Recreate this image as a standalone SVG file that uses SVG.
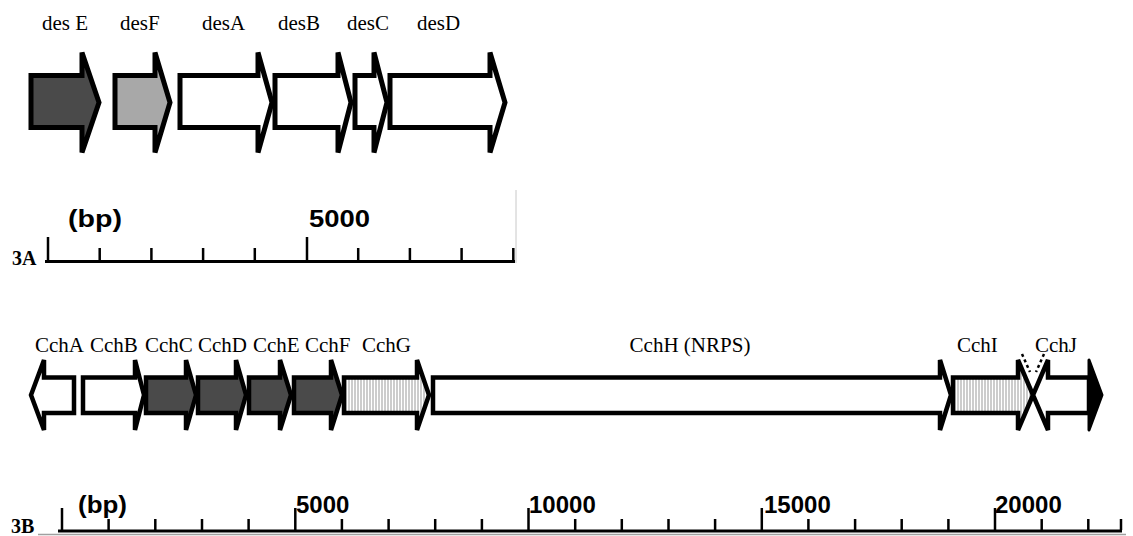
<svg xmlns="http://www.w3.org/2000/svg" width="1133" height="536" viewBox="0 0 1133 536">
<style>
.lbl{font-family:"Liberation Serif","Times New Roman",serif;font-size:21px;fill:#000}
.pan{font-family:"Liberation Serif","Times New Roman",serif;font-size:20px;font-weight:bold;fill:#000}
.num{font-family:"Liberation Sans",Arial,sans-serif;font-size:24px;font-weight:bold;fill:#000}
.ga{stroke:#000;stroke-width:5;stroke-linejoin:miter;stroke-miterlimit:4}
.gb{stroke:#000;stroke-width:4.5;stroke-linejoin:miter;stroke-miterlimit:4}
.dark{fill:#4a4a4a}
.light{fill:#a8a8a8}
.white{fill:#fff}
.hatch{fill:url(#hatch)}
.axis{stroke:#000;stroke-width:3;fill:none}
.tick{stroke:#000;stroke-width:2.5}
</style>
<defs>
<pattern id="hatch" width="3" height="10" patternUnits="userSpaceOnUse">
<rect width="3" height="10" fill="#fff"/>
<line x1="1" y1="0" x2="1" y2="10" stroke="#9a9a9a" stroke-width="1"/>
</pattern>
</defs>
<rect width="1133" height="536" fill="#fff"/>

<!-- Panel 3A genes -->
<g id="desE"><polygon class="ga dark" points="31,75.5 82,75.5 82,52.5 99,102.5 82,152.5 82,127.5 31,127.5"/><text class="lbl" x="42" y="30">des E</text></g>
<g id="desF"><polygon class="ga light" points="115,75.5 155,75.5 155,52.5 170,102.5 155,152.5 155,127.5 115,127.5"/><text class="lbl" x="120" y="30">desF</text></g>
<g id="desA"><polygon class="ga white" points="180,75.5 258,75.5 258,52.5 272,102.5 258,152.5 258,127.5 180,127.5"/><text class="lbl" x="202" y="30">desA</text></g>
<g id="desB"><polygon class="ga white" points="275,75.5 338,75.5 338,52.5 351,102.5 338,152.5 338,127.5 275,127.5"/><text class="lbl" x="278" y="30">desB</text></g>
<g id="desC"><polygon class="ga white" points="355,75.5 374,75.5 374,52.5 387,102.5 374,152.5 374,127.5 355,127.5"/><text class="lbl" x="347" y="30">desC</text></g>
<g id="desD"><polygon class="ga white" points="390,75.5 490,75.5 490,52.5 505,102.5 490,152.5 490,127.5 390,127.5"/><text class="lbl" x="417" y="30">desD</text></g>

<!-- Panel 3A scale -->
<g id="scaleA">
<line x1="516" y1="190" x2="516" y2="263" stroke="#c8c8c8" stroke-width="1"/>
<line class="axis" x1="45" y1="261.5" x2="515" y2="261.5"/>
<line class="tick" x1="48" y1="237" x2="48" y2="261"/>
<line class="tick" x1="99.7" y1="248" x2="99.7" y2="261"/>
<line class="tick" x1="151.4" y1="248" x2="151.4" y2="261"/>
<line class="tick" x1="203.1" y1="248" x2="203.1" y2="261"/>
<line class="tick" x1="254.8" y1="248" x2="254.8" y2="261"/>
<line class="tick" x1="307" y1="237" x2="307" y2="261"/>
<line class="tick" x1="358.2" y1="248" x2="358.2" y2="261"/>
<line class="tick" x1="409.9" y1="248" x2="409.9" y2="261"/>
<line class="tick" x1="461.6" y1="248" x2="461.6" y2="261"/>
<line class="tick" x1="513.3" y1="248" x2="513.3" y2="261"/>
<text class="num" x="68" y="227" textLength="54" lengthAdjust="spacingAndGlyphs">(bp)</text>
<text class="num" x="309" y="227" textLength="61" lengthAdjust="spacingAndGlyphs">5000</text>
<text class="pan" x="12" y="265">3A</text>
</g>

<!-- Panel 3B genes -->
<g id="CchA"><polygon class="gb white" points="31,395 44,360 44,377.5 74,377.5 74,413 44,413 44,430"/><text class="lbl" x="35" y="352">CchA</text></g>
<g id="CchB"><polygon class="gb white" points="83,377.5 135,377.5 135,360 144,395 135,430 135,413 83,413"/><text class="lbl" x="90" y="352">CchB</text></g>
<g id="CchC"><polygon class="gb dark" points="146,377.5 186,377.5 186,360 196,395 186,430 186,413 146,413"/><text class="lbl" x="145" y="352">CchC</text></g>
<g id="CchD"><polygon class="gb dark" points="198,377.5 236,377.5 236,360 246,395 236,430 236,413 198,413"/><text class="lbl" x="198" y="352">CchD</text></g>
<g id="CchE"><polygon class="gb dark" points="249,377.5 280,377.5 280,360 291,395 280,430 280,413 249,413"/><text class="lbl" x="253" y="352">CchE</text></g>
<g id="CchF"><polygon class="gb dark" points="294,377.5 331,377.5 331,360 342,395 331,430 331,413 294,413"/><text class="lbl" x="305" y="352">CchF</text></g>
<g id="CchG"><polygon class="gb hatch" points="344,377.5 417,377.5 417,360 429,395 417,430 417,413 344,413"/><text class="lbl" x="362" y="352">CchG</text></g>
<g id="CchH"><polygon class="gb white" points="433,377.5 940,377.5 940,360 951,395 940,430 940,413 433,413"/><text class="lbl" x="690" y="352" text-anchor="middle">CchH (NRPS)</text></g>
<g id="CchI"><polygon class="gb hatch" points="953,377.5 1018,377.5 1018,360 1033,395 1018,430 1018,413 953,413"/><text class="lbl" x="957" y="352">CchI</text></g>
<g id="CchJ">
<polygon class="gb white" points="1033,395 1048,360 1048,377.5 1089,377.5 1089,413 1048,413 1048,430"/>
<polygon fill="#000" stroke="#000" stroke-width="3" stroke-linejoin="round" points="1089,360 1102,395 1089,430"/>
<line x1="1022" y1="354" x2="1030" y2="372" stroke="#000" stroke-width="2.5" stroke-dasharray="3,3"/>
<line x1="1044" y1="354" x2="1036" y2="372" stroke="#000" stroke-width="2.5" stroke-dasharray="3,3"/>
<text class="lbl" x="1035" y="352">CchJ</text>
</g>

<!-- Panel 3B scale -->
<g id="scaleB">
<line x1="38" y1="534.5" x2="1126" y2="534.5" stroke="#a0a0a0" stroke-width="1.5"/>
<line class="axis" x1="58" y1="531" x2="1122" y2="531"/>
<line class="tick" x1="62" y1="508" x2="62" y2="530"/>
<line class="tick" x1="108.6" y1="519" x2="108.6" y2="530"/>
<line class="tick" x1="155.3" y1="519" x2="155.3" y2="530"/>
<line class="tick" x1="202" y1="519" x2="202" y2="530"/>
<line class="tick" x1="248.6" y1="519" x2="248.6" y2="530"/>
<line class="tick" x1="295.3" y1="508" x2="295.3" y2="530"/>
<line class="tick" x1="341.9" y1="519" x2="341.9" y2="530"/>
<line class="tick" x1="388.6" y1="519" x2="388.6" y2="530"/>
<line class="tick" x1="435.2" y1="519" x2="435.2" y2="530"/>
<line class="tick" x1="481.9" y1="519" x2="481.9" y2="530"/>
<line class="tick" x1="528.5" y1="508" x2="528.5" y2="530"/>
<line class="tick" x1="575.2" y1="519" x2="575.2" y2="530"/>
<line class="tick" x1="621.8" y1="519" x2="621.8" y2="530"/>
<line class="tick" x1="668.5" y1="519" x2="668.5" y2="530"/>
<line class="tick" x1="715.1" y1="519" x2="715.1" y2="530"/>
<line class="tick" x1="761.8" y1="508" x2="761.8" y2="530"/>
<line class="tick" x1="808.4" y1="519" x2="808.4" y2="530"/>
<line class="tick" x1="855.1" y1="519" x2="855.1" y2="530"/>
<line class="tick" x1="901.7" y1="519" x2="901.7" y2="530"/>
<line class="tick" x1="948.4" y1="519" x2="948.4" y2="530"/>
<line class="tick" x1="995" y1="508" x2="995" y2="530"/>
<line class="tick" x1="1041.7" y1="519" x2="1041.7" y2="530"/>
<line class="tick" x1="1088.3" y1="519" x2="1088.3" y2="530"/>
<line class="tick" x1="1121" y1="519" x2="1121" y2="530"/>
<text class="num" x="78" y="513" textLength="49" lengthAdjust="spacingAndGlyphs">(bp)</text>
<text class="num" x="296" y="513">5000</text>
<text class="num" x="529" y="513">10000</text>
<text class="num" x="764" y="513">15000</text>
<text class="num" x="995" y="513">20000</text>
<text class="pan" x="11" y="533">3B</text>
</g>
</svg>
